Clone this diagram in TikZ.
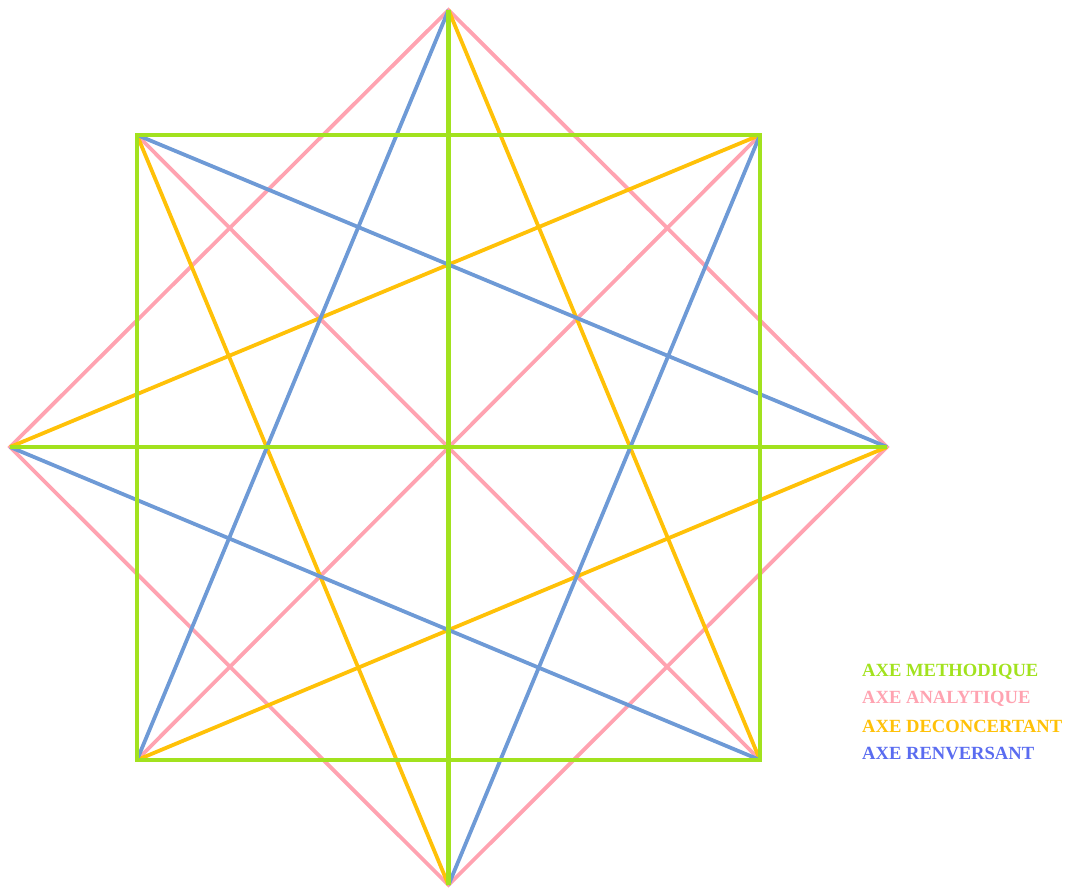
\documentclass[tikz,border=0pt]{standalone}
\usepackage{fontspec}
\setmainfont{Liberation Serif}
\definecolor{cgreen}{HTML}{A2E21E}
\definecolor{cpink}{HTML}{FFA3B1}
\definecolor{corange}{HTML}{FFC108}
\definecolor{cblue}{HTML}{6E9AD6}
\definecolor{tblue}{HTML}{5A6CF0}
\tikzset{
  methodique/.style={draw=cgreen,line width=4.5pt},
  analytique/.style={draw=cpink,line width=3.8pt},
  deconcertant/.style={draw=corange,line width=3.8pt},
  renversant/.style={draw=cblue,line width=3.8pt},
  legend/.style={anchor=west,inner sep=0pt,font=\fontsize{18.6}{18.6}\selectfont\bfseries}
}
\begin{document}
\begin{tikzpicture}[x=1pt,y=-1pt,line join=miter]
\useasboundingbox (0,0) rectangle (1077,892);
\coordinate (T) at (448.5,10);
\coordinate (Bo) at (448.5,885);
\coordinate (L) at (10,447);
\coordinate (R) at (887,447);
\coordinate (TL) at (137,135);
\coordinate (TR) at (760,135);
\coordinate (BR) at (760,760);
\coordinate (BL) at (137,760);
% analytique
\draw[analytique] (T) -- (R) -- (Bo) -- (L) -- cycle;
\draw[analytique] (TL) -- (BR);
\draw[analytique] (TR) -- (BL);
% deconcertant
\draw[deconcertant] (T) -- (BR);
\draw[deconcertant] (TL) -- (Bo);
\draw[deconcertant] (TR) -- (L);
\draw[deconcertant] (R) -- (BL);
% renversant
\draw[renversant] (T) -- (BL);
\draw[renversant] (TL) -- (R);
\draw[renversant] (TR) -- (Bo);
\draw[renversant] (L) -- (BR);
% methodique
\draw[methodique] (TL) -- (TR) -- (BR) -- (BL) -- cycle;
\draw[methodique] (T) -- (Bo);
\draw[methodique] (L) -- (R);
% legend
\node[legend,text=cgreen] (l1) at (862,672) {AXE METHODIQUE};
\node[legend,text=cpink] (l2) at (862,699) {AXE ANALYTIQUE};
\node[legend,text=corange] (l3) at (862,726) {AXE DECONCERTANT};
\node[legend,text=tblue] (l4) at (862,753) {AXE RENVERSANT};
\end{tikzpicture}
\end{document}
